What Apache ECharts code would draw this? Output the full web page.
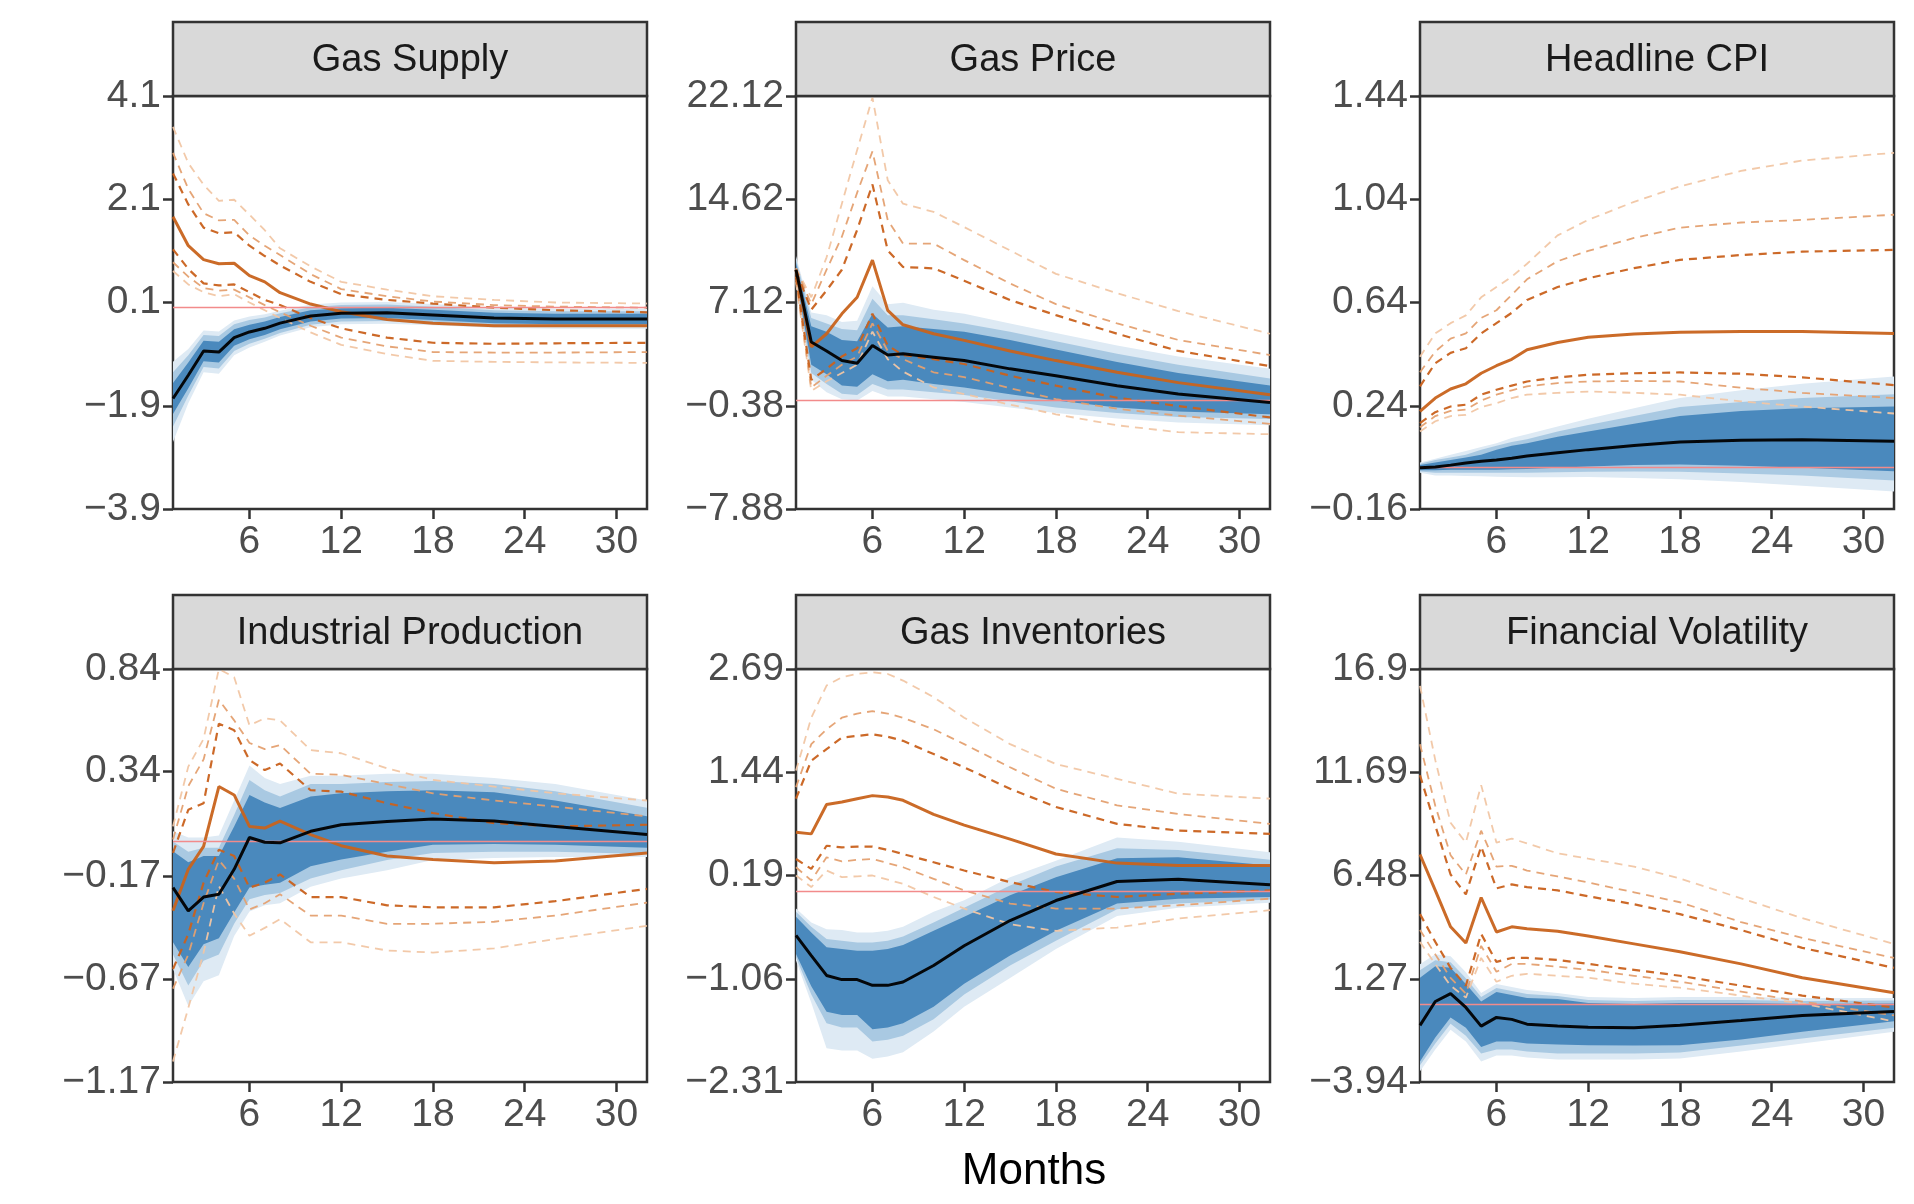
<!DOCTYPE html>
<html><head><meta charset="utf-8">
<script src="https://cdn.jsdelivr.net/npm/echarts@6/dist/echarts.min.js"></script>
<style>html,body{margin:0;padding:0;background:#fff}#c{width:1914px;height:1204px}</style>
</head><body><div id="c"></div>
<script>
// Horizon (months)
const months = [1,2,3,4,5,6,7,8,10,12,15,18,22,26,32];
const xTicks = [6,12,18,24,30];
const titles = ["Gas Supply","Gas Price","Headline CPI","Industrial Production","Gas Inventories","Financial Volatility"];
const yTicks = [
  ["-3.9","-1.9","0.1","2.1","4.1"],
  ["-7.88","-0.38","7.12","14.62","22.12"],
  ["-0.16","0.24","0.64","1.04","1.44"],
  ["-1.17","-0.67","-0.17","0.34","0.84"],
  ["-2.31","-1.06","0.19","1.44","2.69"],
  ["-3.94","1.27","6.48","11.69","16.9"]
];
// Gas Supply
const gsMed=[-1.76,-1.31,-0.84,-0.86,-0.58,-0.47,-0.40,-0.30,-0.16,-0.11,-0.10,-0.14,-0.20,-0.22,-0.22];
const gsLo1=[-2.06,-1.56,-1.04,-1.06,-0.74,-0.61,-0.53,-0.42,-0.27,-0.21,-0.20,-0.24,-0.30,-0.32,-0.32];
const gsHi1=[-1.46,-1.06,-0.64,-0.66,-0.42,-0.33,-0.27,-0.18,-0.05,-0.01,0.0,-0.04,-0.10,-0.12,-0.12];
const gsLo2=[-2.3,-1.7,-1.15,-1.18,-0.84,-0.7,-0.6,-0.49,-0.33,-0.27,-0.26,-0.29,-0.35,-0.37,-0.37];
const gsHi2=[-1.25,-0.92,-0.53,-0.55,-0.32,-0.24,-0.19,-0.11,0.01,0.05,0.06,0.02,-0.05,-0.07,-0.07];
const gsLo3=[-2.6,-1.85,-1.25,-1.28,-0.92,-0.77,-0.66,-0.54,-0.38,-0.32,-0.31,-0.34,-0.39,-0.41,-0.41];
const gsHi3=[-1.05,-0.8,-0.44,-0.46,-0.25,-0.17,-0.13,-0.06,0.06,0.1,0.11,0.07,0.0,-0.02,-0.02];
const gsAlt=[1.76,1.2,0.93,0.85,0.86,0.62,0.5,0.29,0.07,-0.08,-0.23,-0.3,-0.35,-0.35,-0.35];
const gsU1=[2.6,2.0,1.55,1.44,1.46,1.2,1.0,0.82,0.5,0.26,0.15,0.08,0.0,-0.05,-0.09];
const gsU2=[3.0,2.3,1.83,1.69,1.7,1.4,1.2,1.02,0.65,0.36,0.22,0.12,0.05,0.02,0.0];
const gsU3=[3.5,2.8,2.38,2.07,2.09,1.8,1.5,1.15,0.8,0.5,0.35,0.22,0.15,0.1,0.08];
const gsL1=[1.13,0.75,0.47,0.43,0.45,0.3,0.15,0.05,-0.2,-0.4,-0.58,-0.68,-0.7,-0.69,-0.68];
const gsL2=[0.88,0.6,0.38,0.33,0.35,0.2,0.05,-0.09,-0.35,-0.58,-0.75,-0.86,-0.87,-0.87,-0.86];
const gsL3=[0.71,0.45,0.3,0.22,0.26,0.1,-0.05,-0.2,-0.48,-0.72,-0.9,-1.03,-1.05,-1.06,-1.07];
// Gas Price
const gpMed=[9.5,4.25,3.6,2.9,2.7,4.0,3.3,3.4,3.15,2.9,2.3,1.8,1.08,0.47,-0.14];
const gpLo1=[9.0,2.6,1.9,1.1,1.0,1.9,1.4,1.5,1.2,0.95,0.45,0.0,-0.5,-0.8,-1.0];
const gpHi1=[10.0,5.4,5.0,4.4,4.3,6.3,5.3,5.4,5.2,5.0,4.4,3.7,2.8,2.0,1.1];
const gpLo2=[8.7,2.0,1.2,0.5,0.4,1.2,0.8,0.8,0.6,0.4,-0.05,-0.5,-0.9,-1.2,-1.35];
const gpHi2=[10.3,6.0,5.6,5.2,5.1,7.4,6.2,6.2,5.9,5.6,5.0,4.3,3.4,2.6,1.6];
const gpLo3=[8.5,1.5,0.6,0.1,0.0,0.7,0.3,0.3,0.1,-0.1,-0.5,-0.9,-1.3,-1.6,-1.8];
const gpHi3=[10.5,6.4,6.2,5.7,5.8,8.3,7.0,7.1,6.6,6.3,5.6,4.9,4.0,3.2,2.3];
const gpAlt=[9.5,3.9,4.85,6.3,7.5,10.2,6.55,5.5,4.85,4.37,3.6,2.9,2.05,1.3,0.42];
const gpU1=[9.4,6.6,8.0,9.5,12.4,15.7,10.9,9.7,9.6,8.7,7.3,6.2,4.85,3.6,2.5];
const gpU2=[9.6,7.0,9.5,11.9,15.1,18.1,13.1,11.4,11.4,10.2,8.5,7.0,5.6,4.4,3.3];
const gpU3=[9.6,7.5,10.4,14.3,18.2,22.0,16.0,14.3,13.7,12.6,10.9,9.2,7.8,6.5,4.85];
const gpL1=[9.0,1.5,2.3,3.2,3.8,6.3,4.0,3.3,3.0,2.65,1.8,1.08,0.2,-0.4,-1.23];
const gpL2=[8.8,0.95,1.8,2.6,3.2,5.6,3.6,3.0,2.05,1.7,0.9,0.1,-0.6,-1.1,-1.7];
const gpL3=[8.6,0.7,1.4,2.0,2.6,5.0,3.0,2.1,0.95,0.47,-0.3,-1.0,-1.8,-2.3,-2.45];
// Headline CPI
const cpMed=[0,0.003,0.01,0.018,0.025,0.03,0.037,0.045,0.058,0.07,0.086,0.1,0.106,0.108,0.102];
const cpLo1=[-0.01,-0.01,-0.008,-0.008,-0.008,-0.008,-0.006,-0.005,0.0,0.005,0.01,0.012,0.008,0.0,-0.014];
const cpHi1=[0.01,0.02,0.03,0.04,0.05,0.07,0.085,0.095,0.12,0.14,0.17,0.2,0.22,0.23,0.237];
const cpLo2=[-0.015,-0.02,-0.02,-0.02,-0.02,-0.02,-0.02,-0.02,-0.018,-0.016,-0.015,-0.016,-0.022,-0.03,-0.05];
const cpHi2=[0.015,0.03,0.04,0.05,0.07,0.085,0.1,0.11,0.14,0.165,0.2,0.235,0.255,0.27,0.285];
const cpLo3=[-0.02,-0.03,-0.03,-0.032,-0.033,-0.035,-0.036,-0.037,-0.037,-0.036,-0.04,-0.045,-0.055,-0.07,-0.092];
const cpHi3=[0.02,0.035,0.05,0.065,0.08,0.095,0.115,0.13,0.16,0.19,0.23,0.27,0.3,0.325,0.353];
const cpAlt=[0.218,0.27,0.305,0.325,0.366,0.395,0.42,0.457,0.485,0.505,0.518,0.525,0.528,0.528,0.52];
const cpU1=[0.315,0.405,0.445,0.463,0.52,0.56,0.6,0.65,0.7,0.734,0.773,0.805,0.824,0.837,0.844];
const cpU2=[0.37,0.45,0.5,0.52,0.58,0.61,0.67,0.73,0.8,0.84,0.89,0.93,0.95,0.96,0.98];
const cpU3=[0.43,0.52,0.56,0.59,0.66,0.70,0.74,0.79,0.9,0.96,1.03,1.09,1.15,1.19,1.22];
const cpL1=[0.173,0.215,0.237,0.244,0.283,0.302,0.318,0.334,0.35,0.36,0.366,0.369,0.364,0.35,0.32];
const cpL2=[0.157,0.2,0.22,0.225,0.26,0.283,0.3,0.315,0.328,0.334,0.336,0.334,0.31,0.29,0.27];
const cpL3=[0.14,0.18,0.2,0.205,0.235,0.25,0.27,0.283,0.29,0.295,0.29,0.283,0.257,0.237,0.21];
// Industrial Production
const ipMed=[-0.224,-0.337,-0.27,-0.256,-0.135,0.02,-0.003,-0.006,0.05,0.082,0.098,0.11,0.1,0.074,0.034];
const ipLo1=[-0.49,-0.61,-0.5,-0.47,-0.345,-0.224,-0.21,-0.2,-0.12,-0.087,-0.05,-0.015,-0.012,-0.015,-0.03];
const ipHi1=[-0.047,-0.1,-0.07,-0.07,0.074,0.227,0.19,0.163,0.22,0.235,0.245,0.25,0.24,0.2,0.123];
const ipLo2=[-0.55,-0.7,-0.58,-0.55,-0.4,-0.28,-0.26,-0.25,-0.18,-0.14,-0.09,-0.055,-0.05,-0.05,-0.06];
const ipHi2=[0.0,-0.05,-0.03,-0.03,0.13,0.3,0.25,0.22,0.28,0.28,0.29,0.295,0.28,0.245,0.165];
const ipLo3=[-0.62,-0.8,-0.68,-0.65,-0.46,-0.34,-0.31,-0.3,-0.22,-0.18,-0.14,-0.09,-0.08,-0.075,-0.075];
const ipHi3=[0.05,0.02,0.02,0.03,0.2,0.37,0.31,0.28,0.32,0.32,0.33,0.33,0.31,0.28,0.2];
const ipAlt=[-0.337,-0.135,-0.023,0.268,0.227,0.074,0.066,0.1,0.034,-0.02,-0.07,-0.087,-0.103,-0.095,-0.055];
const ipU1=[-0.055,0.155,0.187,0.574,0.542,0.397,0.348,0.38,0.25,0.243,0.187,0.139,0.09,0.074,0.082];
const ipU2=[0.01,0.27,0.4,0.69,0.59,0.48,0.45,0.47,0.33,0.325,0.28,0.235,0.2,0.17,0.123];
const ipU3=[0.074,0.365,0.5,0.84,0.8,0.566,0.6,0.59,0.445,0.43,0.356,0.3,0.268,0.235,0.2];
const ipL1=[-0.62,-0.45,-0.2,-0.04,-0.07,-0.224,-0.2,-0.16,-0.27,-0.27,-0.31,-0.32,-0.32,-0.29,-0.23];
const ipL2=[-0.716,-0.55,-0.3,-0.09,-0.18,-0.33,-0.3,-0.256,-0.36,-0.36,-0.4,-0.4,-0.39,-0.36,-0.297];
const ipL3=[-1.07,-0.81,-0.54,-0.216,-0.35,-0.458,-0.42,-0.377,-0.49,-0.49,-0.53,-0.54,-0.52,-0.474,-0.41];
// Gas Inventories
const giMed=[-0.536,-0.78,-1.02,-1.07,-1.07,-1.14,-1.14,-1.1,-0.9,-0.66,-0.355,-0.113,0.117,0.145,0.077];
const giLo1=[-0.76,-1.15,-1.46,-1.5,-1.5,-1.67,-1.65,-1.6,-1.4,-1.12,-0.78,-0.48,-0.15,-0.09,-0.07];
const giHi1=[-0.31,-0.5,-0.68,-0.7,-0.72,-0.72,-0.7,-0.65,-0.48,-0.31,-0.05,0.17,0.4,0.41,0.31];
const giLo2=[-0.8,-1.25,-1.6,-1.65,-1.65,-1.82,-1.8,-1.75,-1.55,-1.25,-0.9,-0.6,-0.22,-0.15,-0.1];
const giHi2=[-0.25,-0.43,-0.58,-0.6,-0.62,-0.62,-0.6,-0.55,-0.38,-0.2,0.07,0.3,0.52,0.5,0.38];
const giLo3=[-0.84,-1.35,-1.9,-1.93,-1.93,-2.03,-2.0,-1.95,-1.7,-1.4,-1.05,-0.7,-0.3,-0.2,-0.14];
const giHi3=[-0.21,-0.38,-0.46,-0.47,-0.5,-0.5,-0.48,-0.43,-0.25,-0.11,0.17,0.37,0.65,0.6,0.47];
const giAlt=[0.714,0.694,1.05,1.08,1.12,1.157,1.14,1.1,0.93,0.8,0.63,0.45,0.34,0.31,0.31];
const giU1=[1.12,1.58,1.72,1.86,1.88,1.9,1.87,1.82,1.66,1.5,1.24,1.02,0.815,0.734,0.694];
const giU2=[1.26,1.78,1.96,2.1,2.15,2.18,2.15,2.1,1.96,1.78,1.5,1.24,1.04,0.935,0.815];
const giU3=[1.46,2.1,2.49,2.59,2.63,2.65,2.63,2.55,2.35,2.1,1.78,1.54,1.36,1.18,1.12];
const giL1=[0.39,0.27,0.55,0.53,0.54,0.54,0.5,0.45,0.35,0.25,0.11,-0.01,-0.07,-0.03,0.01];
const giL2=[0.29,0.13,0.41,0.36,0.38,0.39,0.34,0.29,0.15,0.01,-0.15,-0.21,-0.21,-0.17,-0.09];
const giL3=[0.19,0.05,0.25,0.17,0.18,0.19,0.14,0.09,-0.07,-0.21,-0.4,-0.48,-0.44,-0.33,-0.23];
// Financial Volatility
const fvMed=[-1.08,0.12,0.52,-0.18,-1.12,-0.68,-0.78,-1.02,-1.12,-1.18,-1.2,-1.08,-0.84,-0.58,-0.38];
const fvLo1=[-2.9,-1.7,-0.68,-1.2,-2.18,-1.9,-1.9,-2.0,-2.05,-2.08,-2.1,-2.08,-1.8,-1.4,-0.88];
const fvHi1=[1.32,1.9,1.82,1.0,0.12,0.6,0.45,0.3,0.25,0.05,0.0,0.05,0.05,0.0,0.02];
const fvLo2=[-3.1,-2.0,-1.0,-1.6,-2.5,-2.3,-2.3,-2.4,-2.5,-2.5,-2.5,-2.45,-2.1,-1.75,-1.2];
const fvHi2=[1.7,2.2,2.1,1.3,0.35,0.8,0.65,0.5,0.4,0.2,0.15,0.2,0.2,0.15,0.17];
const fvLo3=[-3.4,-2.3,-1.3,-1.9,-2.9,-2.6,-2.6,-2.7,-2.8,-2.8,-2.8,-2.75,-2.4,-2.0,-1.4];
const fvHi3=[2.0,2.5,2.4,1.6,0.55,1.0,0.85,0.7,0.55,0.35,0.3,0.35,0.35,0.3,0.3];
const fvAlt=[7.54,5.73,3.89,3.07,5.37,3.63,3.89,3.79,3.67,3.43,3.03,2.63,2.02,1.32,0.56];
const fvU1=[11.54,9.0,6.53,5.53,7.94,5.83,6.03,5.89,5.73,5.43,5.03,4.53,3.73,2.83,1.82];
const fvU2=[13.1,10.0,7.5,6.53,8.74,6.93,6.97,6.73,6.43,6.13,5.63,5.13,4.13,3.33,2.32];
const fvU3=[16.05,12.3,9.14,8.14,11.04,8.14,8.34,8.1,7.6,7.33,6.93,6.33,5.33,4.33,3.03];
const fvL1=[4.53,3.13,1.82,0.92,3.53,2.12,2.32,2.32,2.22,2.02,1.72,1.42,0.92,0.42,-0.18];
const fvL2=[3.73,2.5,1.32,0.52,2.93,1.62,2.02,2.02,1.88,1.72,1.42,1.12,0.62,0.12,-0.58];
const fvL3=[3.13,2.0,0.92,0.32,2.32,1.12,1.42,1.52,1.42,1.32,1.02,0.82,0.42,0.02,-0.88];

const panels = [
 {med:gsMed,b:[[gsLo3,gsHi3],[gsLo2,gsHi2],[gsLo1,gsHi1]],alt:gsAlt,u:[gsU1,gsU2,gsU3],l:[gsL1,gsL2,gsL3]},
 {med:gpMed,b:[[gpLo3,gpHi3],[gpLo2,gpHi2],[gpLo1,gpHi1]],alt:gpAlt,u:[gpU1,gpU2,gpU3],l:[gpL1,gpL2,gpL3]},
 {med:cpMed,b:[[cpLo3,cpHi3],[cpLo2,cpHi2],[cpLo1,cpHi1]],alt:cpAlt,u:[cpU1,cpU2,cpU3],l:[cpL1,cpL2,cpL3]},
 {med:ipMed,b:[[ipLo3,ipHi3],[ipLo2,ipHi2],[ipLo1,ipHi1]],alt:ipAlt,u:[ipU1,ipU2,ipU3],l:[ipL1,ipL2,ipL3]},
 {med:giMed,b:[[giLo3,giHi3],[giLo2,giHi2],[giLo1,giHi1]],alt:giAlt,u:[giU1,giU2,giU3],l:[giL1,giL2,giL3]},
 {med:fvMed,b:[[fvLo3,fvHi3],[fvLo2,fvHi2],[fvLo1,fvHi1]],alt:fvAlt,u:[fvU1,fvU2,fvU3],l:[fvL1,fvL2,fvL3]}
];

const lefts=[173,796,1420], tops=[96,669], W=474, H=413, stripH=74;
const bandCols=['#deeaf4','#a9c9e2','#4a89bd'];
const dashCols=['#c9611c','#e4a070','#f1c6a4'];
const dashW=[2.2,1.8,1.8];
const font='"Liberation Sans", Arial, sans-serif';
const grids=[],xAxes=[],yAxes=[],series=[],graphics=[];
panels.forEach((p,k)=>{
  const col=k%3,row=Math.floor(k/3);
  grids.push({left:lefts[col],top:tops[row],width:W,height:H,show:true,borderColor:'#333',borderWidth:2.5,backgroundColor:'#fff'});
  const tv=yTicks[k].map(Number);
  xAxes.push({type:'value',gridIndex:k,min:1,max:32,position:'bottom',
    axisLine:{show:false,onZero:false},splitLine:{show:false},
    axisTick:{show:true,customValues:xTicks,length:10,lineStyle:{color:'#333',width:2.5}},
    axisLabel:{customValues:xTicks,fontSize:39,color:'#4d4d4d',fontFamily:font,margin:14}});
  yAxes.push({type:'value',gridIndex:k,min:tv[0],max:tv[4],
    axisLine:{show:false,onZero:false},splitLine:{show:false},
    axisTick:{show:true,customValues:tv,length:10,lineStyle:{color:'#333',width:2.5}},
    axisLabel:{customValues:tv,fontSize:39,color:'#4d4d4d',fontFamily:font,margin:12,
      formatter:v=>{let i=tv.findIndex(t=>Math.abs(t-v)<1e-9);return (i>=0?yTicks[k][i]:String(v)).replace('-','\u2212');}}});
  p.b.forEach((bd,j)=>{
    series.push({type:'custom',xAxisIndex:k,yAxisIndex:k,silent:true,clip:true,data:[[months[0],bd[0][0]]],
      renderItem:(params,api)=>{
        const pts=[];
        for(let i=0;i<months.length;i++)pts.push(api.coord([months[i],bd[1][i]]));
        for(let i=months.length-1;i>=0;i--)pts.push(api.coord([months[i],bd[0][i]]));
        return {type:'polygon',shape:{points:pts},style:{fill:bandCols[j]}};
      }});
  });
  const ln=(d,c,w,t,z)=>({type:'line',xAxisIndex:k,yAxisIndex:k,data:months.map((m,i)=>[m,d[i]]),showSymbol:false,silent:true,clip:true,z:z,
     lineStyle:{color:c,width:w,type:t,opacity:0.95}});
  [2,1,0].forEach(j=>{series.push(ln(p.u[j],dashCols[j],dashW[j],[8,6],3));series.push(ln(p.l[j],dashCols[j],dashW[j],[8,6],3));});
  const m=ln(p.med,'#000',3,'solid',5);
  m.markLine={silent:true,symbol:'none',label:{show:false},lineStyle:{color:'#f28b8b',width:1.3,type:'solid'},data:[{yAxis:0}]};
  series.push(m);
  series.push(ln(p.alt,'#c8631c',3,'solid',4));
  const sy=tops[row]-stripH;
  graphics.push({type:'rect',shape:{x:lefts[col],y:sy,width:W,height:stripH},style:{fill:'#d9d9d9',stroke:'#333',lineWidth:2.5},z:10});
  graphics.push({type:'text',x:lefts[col]+W/2,y:sy+stripH/2+2,style:{text:titles[k],fill:'#1a1a1a',font:'38px '+font,textAlign:'center',textVerticalAlign:'middle'},z:11});
});
graphics.push({type:'text',x:1034,y:1172,style:{text:'Months',fill:'#000',font:'44px '+font,textAlign:'center',textVerticalAlign:'middle'},z:11});
const chart=echarts.init(document.getElementById('c'));
chart.setOption({animation:false,grid:grids,xAxis:xAxes,yAxis:yAxes,series:series,graphic:graphics});
</script></body></html>
